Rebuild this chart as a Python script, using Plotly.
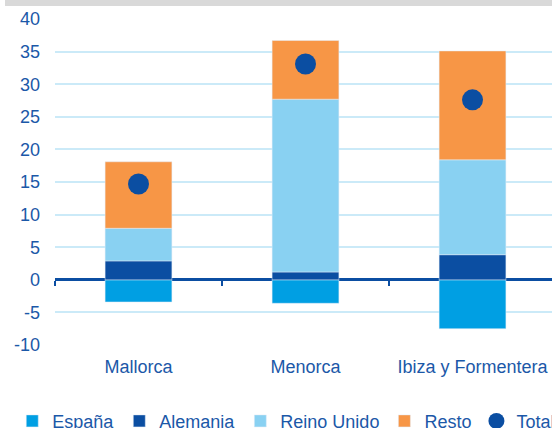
import plotly.graph_objects as go

categories = ["Mallorca", "Menorca", "Ibiza y Formentera"]
espana = [-3.4, -3.6, -7.5]
alemania = [2.9, 1.2, 3.85]
reino_unido = [5.0, 26.5, 14.55]
resto = [10.2, 9.0, 16.7]
total = [14.7, 33.1, 27.6]

y_ticks = [-10, -5, 0, 5, 10, 15, 20, 25, 30, 35, 40]
y_tick_labels = [str(v) for v in y_ticks]

TEXT = "#1B58A8"
DARK = "#0B4EA2"
FONT = "Liberation Sans, Arial, sans-serif"

fig = go.Figure()
fig.add_bar(name="España", x=categories, y=espana, marker_color="#009FE3")
fig.add_bar(name="Alemania", x=categories, y=alemania, marker_color=DARK)
fig.add_bar(name="Reino Unido", x=categories, y=reino_unido, marker_color="#89D1F2")
fig.add_bar(name="Resto", x=categories, y=resto, marker_color="#F79646")
fig.add_scatter(name="Total", x=categories, y=total, mode="markers",
                marker=dict(color=DARK, size=21, symbol="circle"))
# invisible helper trace so the zero-line axis carries the same categories
fig.add_scatter(x=categories, y=[0, 0, 0], xaxis="x2", mode="markers",
                marker=dict(opacity=0), showlegend=False, hoverinfo="skip")

fig.update_layout(
    width=552, height=428,
    margin=dict(l=55, r=0, t=19, b=83, autoexpand=False),
    paper_bgcolor="white", plot_bgcolor="white",
    barmode="relative", bargap=0.6,
    font=dict(family=FONT, size=18, color=TEXT),
    showlegend=True,
    legend=dict(orientation="h", x=-0.086, xanchor="left", y=-0.177, yanchor="top",
                font=dict(family=FONT, size=18, color=TEXT),
                itemwidth=30, bgcolor="rgba(0,0,0,0)"),
    xaxis=dict(type="category", categoryorder="array", categoryarray=categories,
               range=[-0.5, 2.476], showline=False, showgrid=False, ticks="",
               automargin=False,
               tickfont=dict(family=FONT, size=18, color=TEXT), ticklabelstandoff=9),
    xaxis2=dict(type="category", categoryorder="array", categoryarray=categories,
                matches="x", overlaying="x", anchor="free", position=0.2, side="bottom",
                showline=False, showgrid=False, showticklabels=False, automargin=False,
                ticks="outside", tickson="boundaries", ticklen=5, tickwidth=2, tickcolor=DARK),
    yaxis=dict(range=[-10, 40], tickvals=y_ticks, ticktext=y_tick_labels, showgrid=True,
               gridcolor="#CBEAF8", gridwidth=1.5,
               zeroline=True, zerolinecolor=DARK, zerolinewidth=2.5,
               showline=False, ticks="", ticklabelstandoff=14, automargin=False,
               tickfont=dict(family=FONT, size=18, color=TEXT)),
    shapes=[dict(type="rect", xref="paper", yref="paper",
                 x0=-0.1006, x1=1.0, y0=1.0399, y1=1.07,
                 fillcolor="#D9D9D9", line=dict(width=0), layer="below")],
)

fig.write_html("out.html", config={"displayModeBar": False},
               post_script="document.body.style.margin='0';document.body.style.overflow='hidden';")
